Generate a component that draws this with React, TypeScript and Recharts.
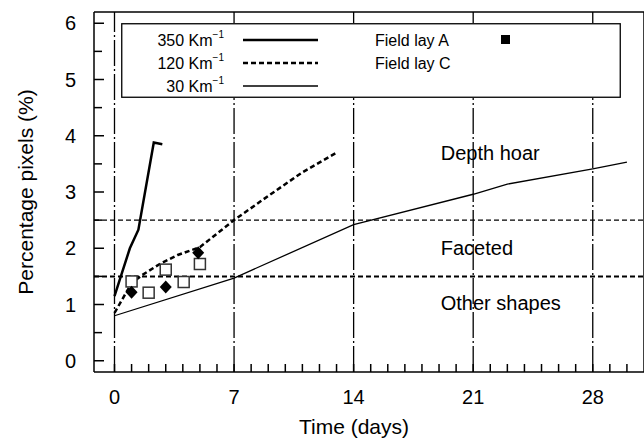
import React from 'react';
import { ComposedChart, Line, Scatter, XAxis, YAxis, ReferenceLine } from 'recharts';

// curves: days -> % pixels
const curve350 = [
  { day: 0, pct: 1.15 },
  { day: 0.9, pct: 2.0 },
  { day: 1.4, pct: 2.33 },
  { day: 2.3, pct: 3.88 },
  { day: 2.8, pct: 3.85 },
];
const curve120 = [
  { day: 0, pct: 0.85 },
  { day: 1, pct: 1.38 },
  { day: 1.6, pct: 1.52 },
  { day: 2.7, pct: 1.73 },
  { day: 3.7, pct: 1.88 },
  { day: 5, pct: 2.02 },
  { day: 7, pct: 2.5 },
  { day: 9, pct: 2.93 },
  { day: 11, pct: 3.35 },
  { day: 13, pct: 3.7 },
];
const curve30 = [
  { day: 0, pct: 0.8 },
  { day: 7, pct: 1.47 },
  { day: 14, pct: 2.42 },
  { day: 21, pct: 2.96 },
  { day: 23, pct: 3.14 },
  { day: 28, pct: 3.41 },
  { day: 30, pct: 3.53 },
];
const fieldLayA = [
  { day: 1, pct: 1.22 },
  { day: 3, pct: 1.31 },
  { day: 4.9, pct: 1.92 },
];
const fieldLayC = [
  { day: 1, pct: 1.41 },
  { day: 2, pct: 1.21 },
  { day: 3, pct: 1.62 },
  { day: 4.05, pct: 1.4 },
  { day: 5, pct: 1.72 },
];
const classLimits = [2.5, 1.5];
const regionLabels = [
  { day: 19.1, pct: 3.7, name: 'Depth hoar' },
  { day: 19.1, pct: 2.0, name: 'Faceted' },
  { day: 19.1, pct: 1.02, name: 'Other shapes' },
];
const weekTicks = [0, 7, 14, 21, 28];
const dayTicks = [0, 1, 2, 3, 4, 5, 6, 7, 8, 9, 10, 11, 12, 13, 14, 15, 16, 17, 18, 19, 20, 21, 22, 23, 24, 25, 26, 27, 28, 29, 30];
const pctTicks = [0, 0.5, 1, 1.5, 2, 2.5, 3, 3.5, 4, 4.5, 5, 5.5, 6];
const legendCurves = [
  { label: '350 Km', width: 2.5, dash: undefined },
  { label: '120 Km', width: 2.5, dash: '5 3' },
  { label: '30 Km', width: 1.3, dash: undefined },
];
const legendFields = ['Field lay A', 'Field lay C'];

const X_MIN = -1.2;
const X_MAX = 31;
const Y_MIN = -0.2;
const Y_MAX = 6.2;

const FONT = '"Liberation Sans", Arial, sans-serif';

// axis ticks: labels outside, marks drawn inward into the plot
const YTick = ({ x, y, payload }: any) => {
  const major = Number.isInteger(payload.value);
  const px = Number(x);
  const py = Number(y);
  return (
    <g>
      <path d={`M${px},${py}H${px + (major ? 10 : 8)}`} stroke="#000" strokeWidth={1.5} fill="none" />
      {major && (
        <text x={px - 18} y={py} textAnchor="end" dominantBaseline="central" fontSize={20} fontFamily={FONT} fill="#000">
          {payload.value}
        </text>
      )}
    </g>
  );
};

const XTick = ({ x, y, payload }: any) => {
  const major = weekTicks.includes(payload.value);
  const px = Number(x);
  const py = Number(y);
  return (
    <g>
      <path d={`M${px},${py}V${py - 8}`} stroke="#000" strokeWidth={1.5} fill="none" />
      {major && (
        <text x={px} y={py + 25} textAnchor="middle" dominantBaseline="central" fontSize={20} fontFamily={FONT} fill="#000">
          {payload.value}
        </text>
      )}
    </g>
  );
};

const Diamond = ({ cx, cy }: any) => (
  <path d={`M${cx},${cy - 6.5}L${cx + 6},${cy}L${cx},${cy + 6.5}L${cx - 6},${cy}Z`} fill="#000" />
);
const OpenSquare = ({ cx, cy }: any) => (
  <rect x={cx - 5.5} y={cy - 5.5} width={11} height={11} fill="#fff" stroke="#333" strokeWidth={1.5} />
);
const RegionText = ({ cx, cy, payload }: any) => (
  <text x={cx} y={cy} dominantBaseline="central" fontSize={20} fontFamily={FONT} fill="#000">
    {payload.name}
  </text>
);

const LegendBox = () => (
  <svg
    width={500}
    height={75}
    style={{ position: 'absolute', left: 121, top: 23, background: '#fff' }}
  >
    <rect x={0.75} y={0.75} width={498.5} height={73.5} fill="#fff" stroke="#000" strokeWidth={1.3} />
    {legendCurves.map((c, i) => (
      <g key={c.label}>
        <text x={103} y={17 + i * 23} textAnchor="end" dominantBaseline="central" fontSize={16} fontFamily={FONT}>
          {c.label}
          <tspan dy={-6} fontSize={10}>−1</tspan>
        </text>
        <line x1={122} x2={197} y1={17 + i * 23} y2={17 + i * 23} stroke="#000" strokeWidth={c.width} strokeDasharray={c.dash} />
      </g>
    ))}
    {legendFields.map((f, i) => (
      <text key={f} x={254} y={17 + i * 23} dominantBaseline="central" fontSize={16} fontFamily={FONT}>
        {f}
      </text>
    ))}
    <rect x={380} y={12} width={9} height={9} fill="#000" />
  </svg>
);

export default function App() {
  return (
    <div style={{ position: 'absolute', left: 0, top: 0, width: 644, height: 439, background: '#fff' }}>
      <ComposedChart width={644} height={439} margin={{ top: 12, right: 0, bottom: 66, left: 93 }}>
        <XAxis
          dataKey="day"
          type="number"
          domain={[X_MIN, X_MAX]}
          ticks={dayTicks}
          interval={0}
          tickSize={0}
          tickMargin={0}
          tick={<XTick />}
          tickLine={false}
          axisLine={false}
          height={1}
          allowDataOverflow
        />
        <YAxis
          dataKey="pct"
          type="number"
          domain={[Y_MIN, Y_MAX]}
          ticks={pctTicks}
          interval={0}
          tickSize={0}
          tickMargin={0}
          tick={<YTick />}
          tickLine={false}
          axisLine={false}
          width={1}
          allowDataOverflow
        />
        {/* plot frame */}
        <ReferenceLine y={Y_MAX} stroke="#000" strokeWidth={1.5} />
        <ReferenceLine y={Y_MIN} stroke="#000" strokeWidth={1.5} />
        <ReferenceLine x={X_MIN} stroke="#000" strokeWidth={1.5} />
        <ReferenceLine x={X_MAX} stroke="#000" strokeWidth={1.5} />
        {weekTicks.map((d) => (
          <ReferenceLine key={d} x={d} stroke="#000" strokeWidth={1.3} strokeDasharray="26 3 2 3" />
        ))}
        {classLimits.map((v, i) => (
          <ReferenceLine key={v} y={v} stroke="#000" strokeWidth={i === 0 ? 1.2 : 2} strokeDasharray="5 3" />
        ))}
        <Line data={curve30} dataKey="pct" stroke="#000" strokeWidth={1.3} dot={false} isAnimationActive={false} />
        <Line data={curve120} dataKey="pct" stroke="#000" strokeWidth={2.5} strokeDasharray="5 3" dot={false} isAnimationActive={false} />
        <Line data={curve350} dataKey="pct" stroke="#000" strokeWidth={2.5} dot={false} isAnimationActive={false} />
        <Scatter data={fieldLayC} dataKey="pct" shape={<OpenSquare />} isAnimationActive={false} />
        <Scatter data={fieldLayA} dataKey="pct" shape={<Diamond />} isAnimationActive={false} />
        <Scatter data={regionLabels} dataKey="pct" shape={<RegionText />} isAnimationActive={false} />
      </ComposedChart>
      <LegendBox />
      <div
        style={{
          position: 'absolute',
          left: 26,
          top: 192,
          transform: 'translate(-50%, -50%) rotate(-90deg)',
          fontFamily: FONT,
          fontSize: 21,
          whiteSpace: 'nowrap',
        }}
      >
        Percentage pixels (%)
      </div>
      <div
        style={{
          position: 'absolute',
          left: 354,
          top: 427,
          transform: 'translate(-50%, -50%)',
          fontFamily: FONT,
          fontSize: 21,
          whiteSpace: 'nowrap',
        }}
      >
        Time (days)
      </div>
    </div>
  );
}
